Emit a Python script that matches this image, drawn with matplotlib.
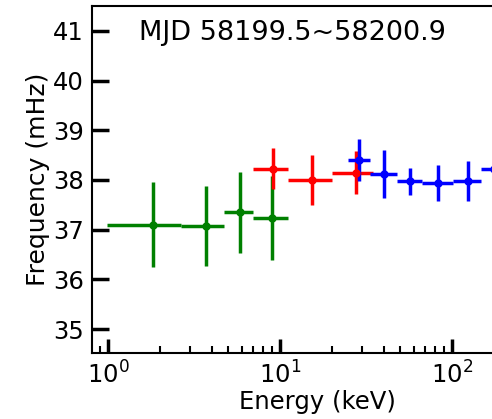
import matplotlib.pyplot as plt
import numpy as np

# green band
g_e = [1.82, 3.71, 5.85, 9.02]
g_lo = [0.99, 2.66, 4.75, 7.0]
g_hi = [2.66, 4.75, 7.0, 11.1]
g_f = [37.10, 37.07, 37.35, 37.24]
g_err = [0.85, 0.80, 0.82, 0.84]

# red band
r_e = [9.07, 15.4, 27.7]
r_lo = [7.0, 11.1, 20.1]
r_hi = [11.1, 20.1, 34.9]
r_f = [38.23, 38.00, 38.15]
r_err = [0.42, 0.51, 0.44]

# blue band
b_e = [28.9, 40.4, 57.0, 83.3, 123.4, 176.0]
b_lo = [24.8, 33.4, 47.7, 67.2, 100.9, 146.8]
b_hi = [33.4, 47.7, 67.2, 100.9, 146.8, 211.0]
b_f = [38.40, 38.12, 37.97, 37.94, 37.98, 38.22]
b_err = [0.43, 0.49, 0.28, 0.37, 0.40, 1.18]

fig = plt.figure(figsize=(4.92, 4.19), dpi=100)
# axes run off the right edge of the picture
ax = fig.add_axes([92 / 492, 66 / 419, 450 / 492, 347 / 419])


def band(e, lo, hi, f, err, c):
    e = np.array(e)
    xerr = [e - np.array(lo), np.array(hi) - e]
    ax.errorbar(e, f, xerr=xerr, yerr=err, fmt='o', color=c, ms=5,
                elinewidth=2.5, capsize=0)


band(g_e, g_lo, g_hi, g_f, g_err, 'green')
band(r_e, r_lo, r_hi, r_f, r_err, 'red')
band(b_e, b_lo, b_hi, b_f, b_err, 'blue')

ax.set_xscale('log')
ax.set_xlim(0.807, 10 ** ((542 - 108) / 172))
ax.set_ylim(34.52, 41.5)
ax.set_yticks([35, 36, 37, 38, 39, 40, 41])

ax.tick_params(axis='both', which='both', direction='in', labelsize=17.5)
ax.tick_params(axis='y', which='major', length=12.5, width=2.5, pad=6)
ax.tick_params(axis='x', which='major', length=10, width=2.5, pad=6)
ax.tick_params(axis='x', which='minor', length=5, width=1.5)
for s in ax.spines.values():
    s.set_linewidth(1.5)

ax.set_xlabel('Energy (keV)', fontsize=17.5, labelpad=1)
ax.set_ylabel('Frequency (mHz)', fontsize=18, labelpad=2)
ax.text(139 / 492, 0.952, 'MJD 58199.5~58200.9', transform=fig.transFigure,
        fontsize=19.5, va='top')

fig.savefig('out.png', dpi=100)
